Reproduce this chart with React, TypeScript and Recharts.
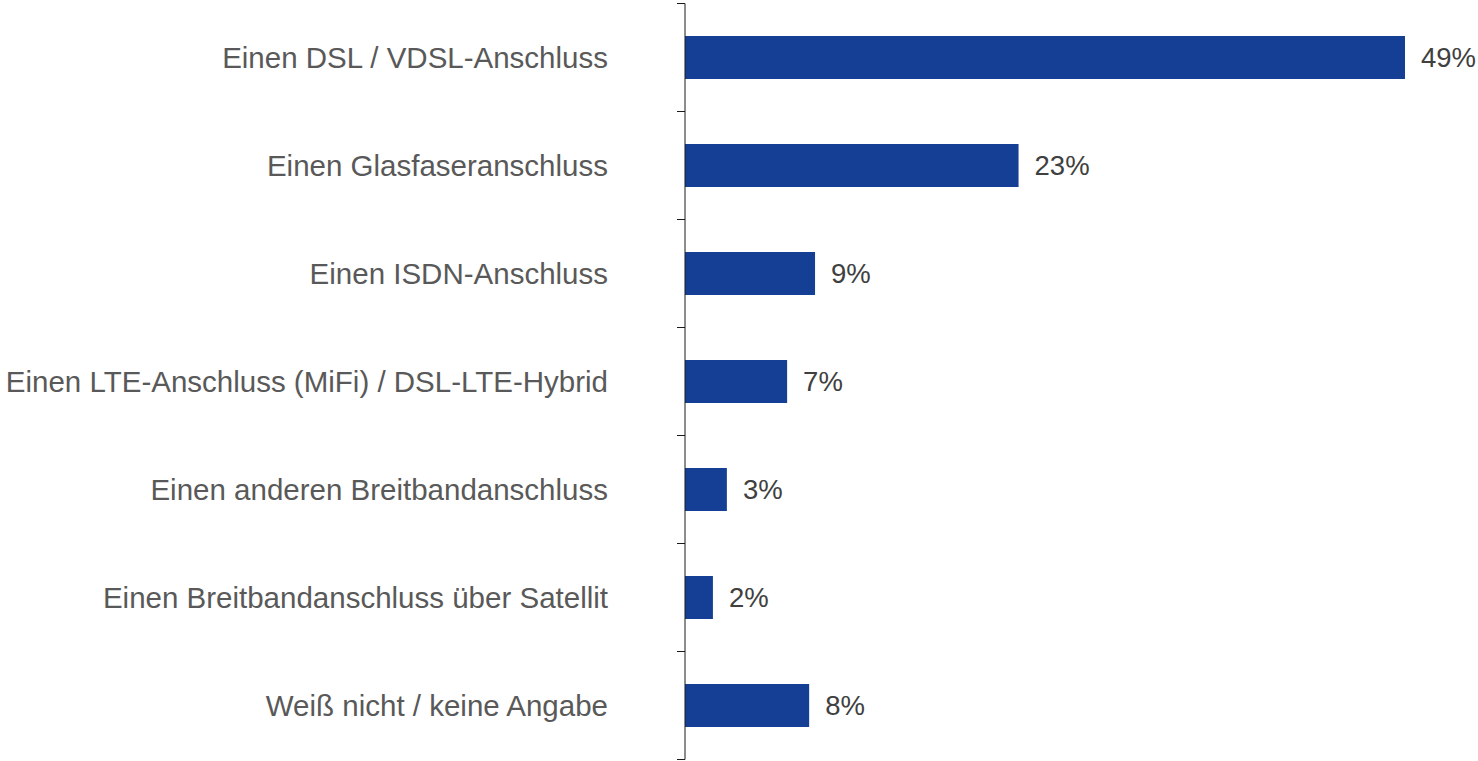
import { BarChart, Bar, XAxis, YAxis, LabelList } from "recharts";

const categories = [
  "Einen DSL / VDSL-Anschluss",
  "Einen Glasfaseranschluss",
  "Einen ISDN-Anschluss",
  "Einen LTE-Anschluss (MiFi) / DSL-LTE-Hybrid",
  "Einen anderen Breitbandanschluss",
  "Einen Breitbandanschluss über Satellit",
  "Weiß nicht / keine Angabe",
];
const shares = [49, 22.7, 8.85, 6.95, 2.85, 1.9, 8.45];
const shareLabels = ["49%", "23%", "9%", "7%", "3%", "2%", "8%"];

const data = categories.map((name, i) => ({ name, value: shares[i], label: shareLabels[i] }));

const WIDTH = 1478;
const HEIGHT = 761;
const TOP = 3.5;
const BOTTOM = 1.5;
const BAND = (HEIGHT - TOP - BOTTOM) / categories.length;

function CategoryTick(props: any) {
  const { x, y, payload, index } = props;
  const lineX1 = x + 69;
  const lineX2 = x + 77;
  return (
    <g>
      <line x1={lineX1} x2={lineX2} y1={y - BAND / 2} y2={y - BAND / 2} stroke="#1a1a1a" strokeWidth={1} />
      {index === categories.length - 1 && (
        <line x1={lineX1} x2={lineX2} y1={y + BAND / 2} y2={y + BAND / 2} stroke="#1a1a1a" strokeWidth={1} />
      )}
      <text x={x} y={y} textAnchor="end" dominantBaseline="central" fill="#595959" fontSize={29.5}>
        {payload.value}
      </text>
    </g>
  );
}

export default function App() {
  return (
    <div style={{ position: "absolute", left: 0, top: 0, width: WIDTH, height: HEIGHT, background: "#fff", fontFamily: "'Liberation Sans', Arial, sans-serif" }}>
      <BarChart
        width={WIDTH}
        height={HEIGHT}
        data={data}
        layout="vertical"
        margin={{ top: TOP, right: 73, bottom: BOTTOM, left: 0 }}
        barCategoryGap="30%"
      >
        <XAxis type="number" domain={[0, 49]} hide />
        <YAxis
          type="category"
          dataKey="name"
          width={685}
          tickSize={8}
          tickMargin={69}
          tickLine={false}
          axisLine={{ stroke: "#1a1a1a", strokeWidth: 1 }}
          tick={<CategoryTick />}
          interval={0}
        />
        <Bar dataKey="value" fill="#143f94" isAnimationActive={false}>
          <LabelList dataKey="label" position="right" offset={16} fill="#404040" fontSize={27.5} />
        </Bar>
      </BarChart>
    </div>
  );
}
